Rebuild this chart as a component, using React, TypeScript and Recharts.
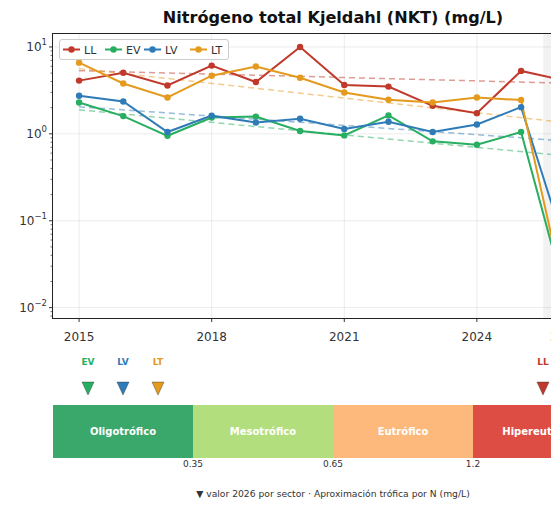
import {
  LineChart,
  Line,
  XAxis,
  YAxis,
  ReferenceLine,
  ReferenceArea,
  ComposedChart,
  Scatter,
} from 'recharts';

const years = [2015, 2016, 2017, 2018, 2019, 2020, 2021, 2022, 2023, 2024, 2025, 2026];
const llValues = [4.1, 5.05, 3.6, 6.1, 3.95, 10.0, 3.65, 3.5, 2.1, 1.73, 5.3, 4.1];
const evValues = [2.3, 1.6, 0.95, 1.54, 1.58, 1.08, 0.96, 1.63, 0.82, 0.75, 1.05, 0.014];
const lvValues = [2.75, 2.36, 1.05, 1.62, 1.35, 1.49, 1.14, 1.38, 1.05, 1.28, 2.03, 0.05];
const ltValues = [6.6, 3.8, 2.62, 4.67, 5.95, 4.43, 2.99, 2.47, 2.3, 2.62, 2.45, 0.013];

// trend fit, value at first and last year
const llTrend = [5.33, 3.83];
const evTrend = [1.89, 0.56];
const lvTrend = [2.05, 0.83];
const ltTrend = [5.62, 1.35];

const sectors = ['LL', 'EV', 'LV', 'LT'];
const colors = ['#c0392b', '#27ae60', '#2e7bb8', '#e39a1d'];

const trophicNames = ['Oligotrófico', 'Mesotrófico', 'Eutrófico', 'Hipereutrófico'];
const trophicColors = ['#3aa86b', '#b3de7e', '#fdb97b', '#de4d44'];
const trophicLimits = [0.35, 0.65, 1.2];

const xTicks = [2015, 2018, 2021, 2024, 2026];
const yMajor = [0.01, 0.1, 1, 10];

const FONT = '"DejaVu Sans", sans-serif';
const PLOT_LEFT = 53;
const Y_MIN = 0.0076;
const Y_MAX = 14.1;

const series = [llValues, evValues, lvValues, ltValues];
const trends = [llTrend, evTrend, lvTrend, ltTrend];

const data = years.map((year, i) => {
  const row: Record<string, number | null> = { year };
  sectors.forEach((s, k) => {
    row[s] = series[k][i];
    row[s + '_t'] = i === 0 ? trends[k][0] : i === years.length - 1 ? trends[k][1] : null;
  });
  return row;
});

// log ticks: majors plus 2..9 minors inside the domain
const yTicks: number[] = [];
for (let e = -3; e <= 1; e++) {
  for (let m = 1; m <= 9; m++) {
    const v = m * Math.pow(10, e);
    if (v >= Y_MIN && v <= Y_MAX) yTicks.push(v);
  }
}

function LogTick({ y, payload }: any) {
  const lg = Math.log10(payload.value);
  const exp = Math.round(lg);
  const major = Math.abs(lg - exp) < 1e-6;
  return (
    <g>
      <line
        x1={PLOT_LEFT - (major ? 4 : 2.5)}
        x2={PLOT_LEFT}
        y1={y}
        y2={y}
        stroke="#333"
        strokeWidth={major ? 1 : 0.7}
      />
      {major && (
        <text
          x={PLOT_LEFT - 6}
          y={y + 4.5}
          textAnchor="end"
          fontSize={12}
          fontFamily={FONT}
          fill="#333"
        >
          10
          <tspan dy={-6} fontSize={8.5}>
            {exp < 0 ? `\u2212${-exp}` : String(exp)}
          </tspan>
        </text>
      )}
    </g>
  );
}

// place 2026 markers inside their trophic band
const lastIdx = years.length - 1;
const markerData = (() => {
  const segOf = series.map((vals) => trophicLimits.filter((l) => vals[lastIdx] >= l).length);
  return sectors.map((s, k) => {
    const inSeg = sectors.filter((_, j) => segOf[j] === segOf[k]);
    const rank = inSeg.indexOf(s);
    return { x: segOf[k] + (rank + 1) / (inSeg.length + 1), y: 0.66, name: s, color: colors[k] };
  });
})();

function Marker(props: any) {
  const { cx, cy, payload } = props;
  return (
    <g>
      <text
        x={cx}
        y={cy - 26}
        textAnchor="middle"
        dominantBaseline="central"
        fontSize={9}
        fontWeight="bold"
        fontFamily={FONT}
        fill={payload.color}
      >
        {payload.name}
      </text>
      <polygon
        points={`${cx - 6},${cy - 6} ${cx + 6},${cy - 6} ${cx},${cy + 7}`}
        fill={payload.color}
        stroke="#333"
        strokeOpacity={0.5}
        strokeWidth={0.8}
      />
    </g>
  );
}

export default function App() {
  return (
    <div
      style={{
        position: 'fixed',
        left: 0,
        top: 0,
        width: 551,
        height: 508,
        overflow: 'hidden',
        background: '#fff',
        fontFamily: FONT,
      }}
    >
      {/* Title */}
      <div
        style={{
          position: 'absolute',
          left: 133,
          width: 400,
          top: 8,
          textAlign: 'center',
          fontSize: 16.1,
          fontWeight: 'bold',
          color: '#111',
          lineHeight: '20px',
          whiteSpace: 'nowrap',
        }}
      >
        Nitrógeno total Kjeldahl (NKT) (mg/L)
      </div>

      {/* Time series */}
      <div style={{ position: 'absolute', left: 0, top: 0 }}>
        <LineChart width={613} height={350} data={data} margin={{ top: 34, right: 0, left: 0, bottom: 0 }}>
          <XAxis
            dataKey="year"
            type="number"
            domain={[2014.41, 2027.08]}
            allowDataOverflow
            ticks={xTicks}
            interval={0}
            height={32}
            axisLine={false}
            tickSize={4}
            tickMargin={10}
            tickLine={{ stroke: '#333' }}
            tick={{ fontSize: 12, fill: '#333', fontFamily: FONT }}
          />
          <YAxis
            type="number"
            scale="log"
            domain={[Y_MIN, Y_MAX]}
            allowDataOverflow
            ticks={yTicks}
            interval={0}
            width={53}
            axisLine={false}
            tickLine={false}
            tick={<LogTick />}
          />
          <ReferenceArea x1={2025.5} x2={2026.5} fill="#000" fillOpacity={0.05} stroke="none" />
          {yMajor.map((v) => (
            <ReferenceLine key={'h' + v} y={v} stroke="#000" strokeOpacity={0.1} strokeWidth={0.8} />
          ))}
          {xTicks.map((v) => (
            <ReferenceLine key={'v' + v} x={v} stroke="#000" strokeOpacity={0.1} strokeWidth={0.8} />
          ))}
          {sectors.map((s, k) => (
            <Line
              key={s + '_t'}
              dataKey={s + '_t'}
              stroke={colors[k]}
              strokeOpacity={0.5}
              strokeWidth={1.5}
              strokeDasharray="6 4"
              dot={false}
              connectNulls
              isAnimationActive={false}
            />
          ))}
          {sectors.map((s, k) => (
            <Line
              key={s}
              dataKey={s}
              stroke={colors[k]}
              strokeWidth={2}
              dot={{ r: 3.2, fill: colors[k], stroke: colors[k], strokeWidth: 0 }}
              isAnimationActive={false}
            />
          ))}
        </LineChart>
      </div>

      {/* Axes frame */}
      <div
        style={{
          position: 'absolute',
          left: 52,
          top: 33,
          width: 562,
          height: 286,
          border: '1.2px solid #222',
          boxSizing: 'border-box',
          pointerEvents: 'none',
        }}
      />

      {/* Legend */}
      <div
        style={{
          position: 'absolute',
          left: 59,
          top: 39,
          width: 170,
          height: 21,
          background: 'rgba(255,255,255,0.85)',
          border: '1px solid #ccc',
          borderRadius: 3,
          boxSizing: 'border-box',
        }}
      >
        <svg width={170} height={21} style={{ position: 'absolute', left: -1, top: -1 }}>
          {sectors.map((s, k) => {
            const x0 = [4, 46, 85, 131][k];
            return (
              <g key={s}>
                <line x1={x0} x2={x0 + 17} y1={10.5} y2={10.5} stroke={colors[k]} strokeWidth={2} />
                <circle cx={x0 + 8.5} cy={10.5} r={3.2} fill={colors[k]} />
                <text x={x0 + 21} y={14.5} fontSize={11} fontFamily={FONT} fill="#333">
                  {s}
                </text>
              </g>
            );
          })}
        </svg>
      </div>

      {/* Trophic scale */}
      <div style={{ position: 'absolute', left: 0, top: 340 }}>
        <ComposedChart width={613} height={168} margin={{ top: 12, right: 0, left: 53, bottom: 30 }}>
          <XAxis
            dataKey="x"
            type="number"
            domain={[0, 4]}
            ticks={[1, 2, 3]}
            interval={0}
            height={20}
            axisLine={false}
            tickLine={false}
            tickSize={0}
            tickMargin={3}
            tickFormatter={(v: number) => String(trophicLimits[v - 1])}
            tick={{ fontSize: 9, fill: '#333', fontFamily: FONT }}
          />
          <YAxis type="number" domain={[0, 1]} hide />
          {trophicNames.map((name, i) => (
            <ReferenceArea
              key={name}
              x1={i}
              x2={i + 1}
              y1={0}
              y2={0.5}
              fill={trophicColors[i]}
              fillOpacity={1}
              stroke="none"
              label={{
                value: name,
                position: 'center',
                fill: '#fff',
                fontSize: 10,
                fontWeight: 'bold',
                fontFamily: FONT,
              }}
            />
          ))}
          <Scatter data={markerData} dataKey="y" shape={<Marker />} isAnimationActive={false} />
        </ComposedChart>
      </div>

      {/* Footnote */}
      <div
        style={{
          position: 'absolute',
          left: 133,
          width: 400,
          top: 488,
          textAlign: 'center',
          fontSize: 9.2,
          color: '#333',
          lineHeight: '12px',
          whiteSpace: 'nowrap',
        }}
      >
        ▼ valor 2026 por sector · Aproximación trófica por N (mg/L)
      </div>
    </div>
  );
}
